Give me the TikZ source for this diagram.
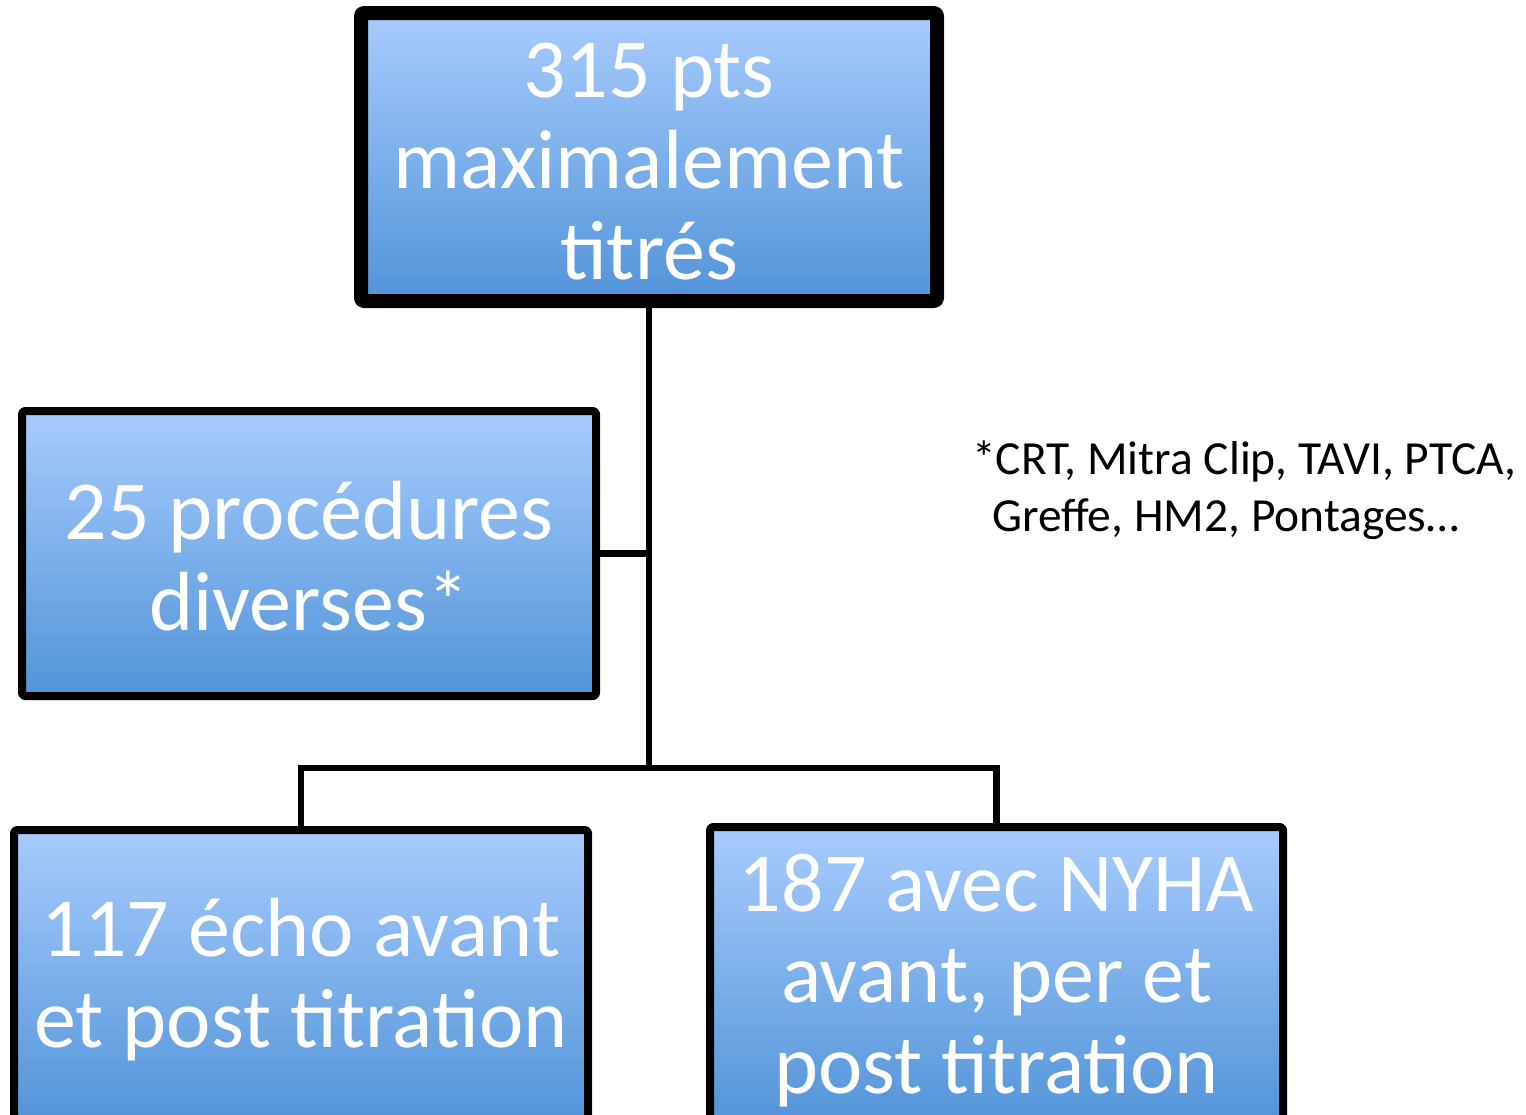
\documentclass[tikz,border=0pt]{standalone}
\usepackage{fontspec}
\setmainfont{Carlito}
\usetikzlibrary{shadows,calc}
\definecolor{boxtop}{RGB}{168,203,253}
\definecolor{boxbot}{RGB}{82,148,216}
\newcommand\fsttop{\rule{0pt}{84pt}}
\newcommand\lstbot{\rule[-22pt]{0pt}{22pt}}
\newcommand\lstbotlow{\rule[-32pt]{0pt}{32pt}}
\tikzset{
  bluebox/.style={draw=black, rectangle, rounded corners=3pt, line join=round,
    top color=boxtop, bottom color=boxbot, text=white, align=center,
    font=\fontsize{84}{91}\selectfont, inner sep=0pt,
    drop shadow={shadow xshift=2pt, shadow yshift=-4pt, opacity=0.18, fill=black}},
  conn/.style={draw=black, line width=6.5pt, line join=miter},
  notetext/.style={anchor=base west, inner sep=0pt, font=\fontsize{47.5}{57}\selectfont, text=black}
}
\begin{document}
\begin{tikzpicture}[x=1pt,y=-1pt]
\useasboundingbox (0,0) rectangle (1526,1114);
\clip (0,0) rectangle (1526,1114);
\fill[white] (0,0) rectangle (1526,1114);
\coordinate (j) at (649,768);
\node[bluebox, line width=14pt, minimum width=576pt, minimum height=288pt] (top) at (649,157) {\fsttop 315 pts\\maximalement\\titrés\lstbot};
\node[bluebox, line width=8pt, minimum width=574pt, minimum height=285pt] (left) at (309,553.5) {\fsttop 25 procédures\\diverses*\lstbot};
\node[bluebox, line width=8pt, minimum width=574pt, minimum height=292pt] (bl) at (301,976) {\fsttop 117 écho avant\\et post titration\lstbotlow};
\node[bluebox, line width=8pt, minimum width=573pt, minimum height=292pt] (br) at (996.5,976) {\fsttop 187 avec NYHA\\avant, per et\\post titration\lstbotlow};
\draw[conn] (top.south) -- (j);
\draw[conn] (left.east) -- (left.east -| j);
\draw[conn] (bl.north) |- (j) -| (br.north);
\node[notetext] (note1) at (972,474) {*CRT, Mitra Clip, TAVI, PTCA,};
\node[notetext] (note2) at (992,531) {Greffe, HM2, Pontages…};
\end{tikzpicture}
\end{document}
